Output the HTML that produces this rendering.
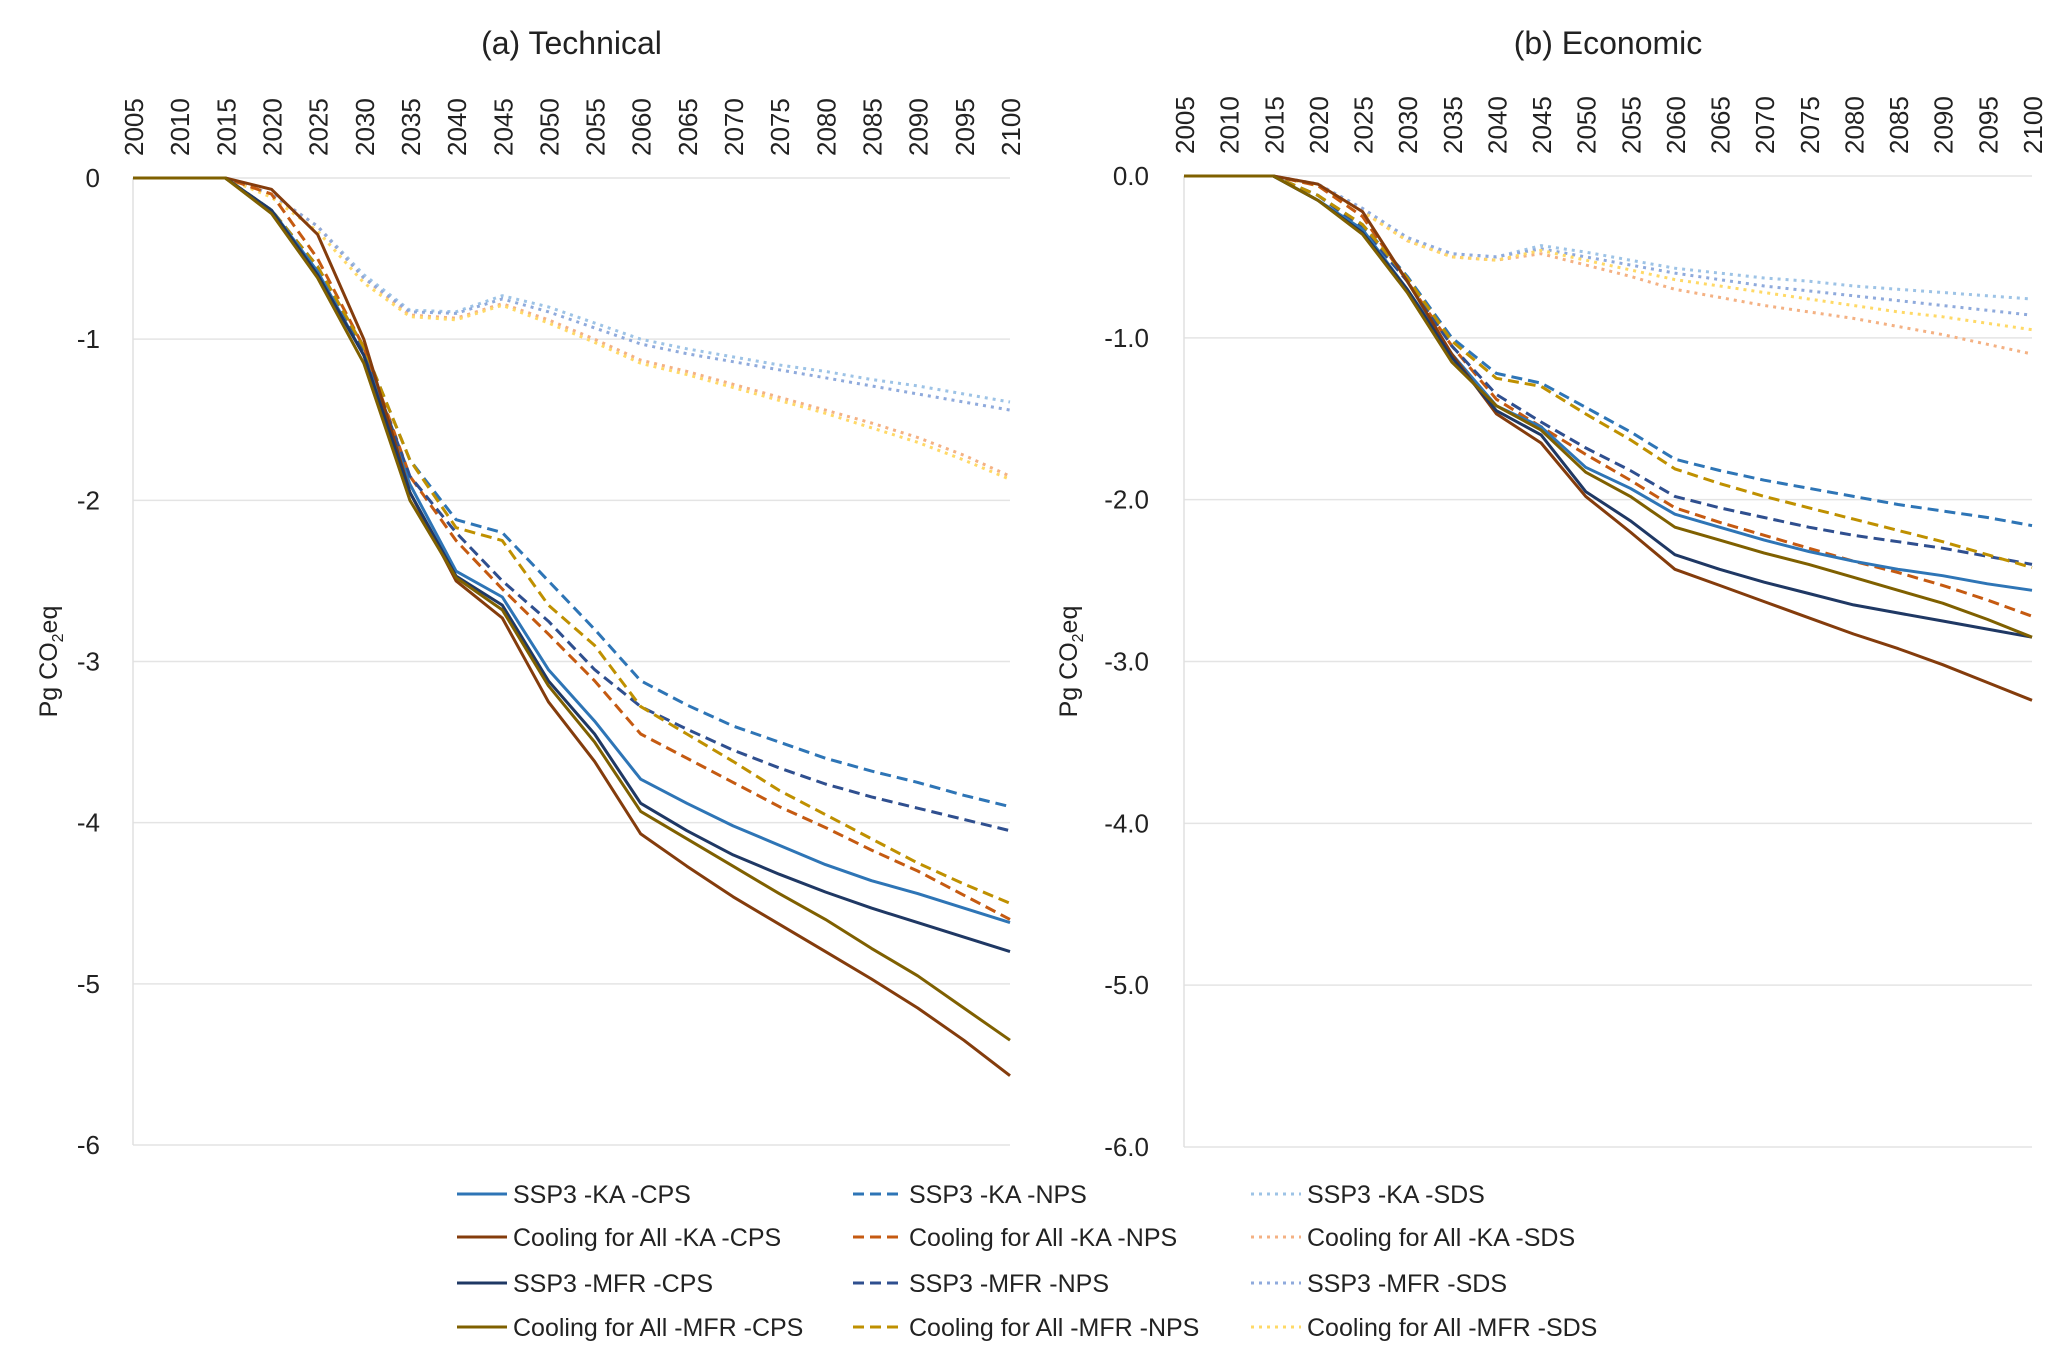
<!DOCTYPE html>
<html><head><meta charset="utf-8"><style>
html,body{margin:0;padding:0;background:#fff;}
svg{display:block;font-family:"Liberation Sans",sans-serif;}
</style></head><body>
<svg id="chart" width="2067" height="1362" viewBox="0 0 2067 1362" xmlns="http://www.w3.org/2000/svg">
<rect width="2067" height="1362" fill="#fff"/>
</svg>
<script>
const years = [2005,2010,2015,2020,2025,2030,2035,2040,2045,2050,2055,2060,2065,2070,2075,2080,2085,2090,2095,2100];
const seriesNames = ["SSP3 -KA -CPS","SSP3 -KA -NPS","SSP3 -KA -SDS","Cooling for All -KA -CPS","Cooling for All -KA -NPS","Cooling for All -KA -SDS","SSP3 -MFR -CPS","SSP3 -MFR -NPS","SSP3 -MFR -SDS","Cooling for All -MFR -CPS","Cooling for All -MFR -NPS","Cooling for All -MFR -SDS"];
const yTicks = [0,-1,-2,-3,-4,-5,-6];

// Technical panel
const techKaCps   = [0,0,0,-0.2,-0.58,-1.1,-1.9,-2.44,-2.6,-3.05,-3.37,-3.73,-3.88,-4.02,-4.14,-4.26,-4.36,-4.44,-4.53,-4.62];
const techKaNps   = [0,0,0,-0.2,-0.55,-1.05,-1.75,-2.12,-2.2,-2.5,-2.8,-3.12,-3.27,-3.4,-3.5,-3.6,-3.68,-3.75,-3.83,-3.9];
const techKaSds   = [0,0,0,-0.1,-0.3,-0.6,-0.82,-0.83,-0.73,-0.8,-0.9,-1.0,-1.06,-1.11,-1.16,-1.2,-1.25,-1.29,-1.34,-1.39];
const techCfaKaCps= [0,0,0,-0.07,-0.35,-1.0,-1.95,-2.5,-2.73,-3.25,-3.62,-4.07,-4.27,-4.46,-4.63,-4.8,-4.97,-5.15,-5.35,-5.57];
const techCfaKaNps= [0,0,0,-0.1,-0.5,-1.05,-1.85,-2.25,-2.55,-2.83,-3.12,-3.45,-3.6,-3.75,-3.9,-4.03,-4.17,-4.3,-4.45,-4.6];
const techCfaKaSds= [0,0,0,-0.1,-0.3,-0.62,-0.85,-0.87,-0.78,-0.88,-1.0,-1.13,-1.2,-1.28,-1.36,-1.44,-1.52,-1.61,-1.72,-1.85];
const techMfrCps  = [0,0,0,-0.2,-0.6,-1.1,-1.95,-2.47,-2.65,-3.12,-3.45,-3.88,-4.05,-4.2,-4.32,-4.43,-4.53,-4.62,-4.71,-4.8];
const techMfrNps  = [0,0,0,-0.2,-0.55,-1.08,-1.85,-2.2,-2.5,-2.75,-3.05,-3.28,-3.42,-3.55,-3.66,-3.76,-3.84,-3.91,-3.98,-4.05];
const techMfrSds  = [0,0,0,-0.1,-0.3,-0.62,-0.83,-0.84,-0.75,-0.83,-0.93,-1.03,-1.09,-1.14,-1.19,-1.24,-1.29,-1.34,-1.39,-1.44];
const techCfaMfrCps=[0,0,0,-0.22,-0.62,-1.15,-2.0,-2.48,-2.68,-3.15,-3.5,-3.93,-4.1,-4.27,-4.44,-4.6,-4.78,-4.95,-5.15,-5.35];
const techCfaMfrNps=[0,0,0,-0.2,-0.55,-1.05,-1.75,-2.17,-2.25,-2.65,-2.9,-3.28,-3.45,-3.62,-3.8,-3.95,-4.1,-4.25,-4.38,-4.5];
const techCfaMfrSds=[0,0,0,-0.12,-0.33,-0.65,-0.86,-0.88,-0.79,-0.9,-1.02,-1.15,-1.22,-1.3,-1.38,-1.46,-1.55,-1.64,-1.75,-1.87];

// Economic panel
const econKaCps   = [0,0,0,-0.15,-0.33,-0.7,-1.1,-1.42,-1.55,-1.8,-1.93,-2.09,-2.17,-2.25,-2.32,-2.38,-2.43,-2.47,-2.52,-2.56];
const econKaNps   = [0,0,0,-0.12,-0.3,-0.62,-1.0,-1.22,-1.28,-1.43,-1.58,-1.75,-1.82,-1.88,-1.93,-1.98,-2.03,-2.07,-2.11,-2.16];
const econKaSds   = [0,0,0,-0.05,-0.2,-0.38,-0.48,-0.5,-0.43,-0.47,-0.52,-0.57,-0.6,-0.63,-0.65,-0.68,-0.7,-0.72,-0.74,-0.76];
const econCfaKaCps= [0,0,0,-0.05,-0.22,-0.65,-1.1,-1.47,-1.65,-1.98,-2.2,-2.43,-2.53,-2.63,-2.73,-2.83,-2.92,-3.02,-3.13,-3.24];
const econCfaKaNps= [0,0,0,-0.06,-0.25,-0.65,-1.05,-1.38,-1.55,-1.72,-1.88,-2.05,-2.14,-2.22,-2.3,-2.38,-2.45,-2.53,-2.62,-2.72];
const econCfaKaSds= [0,0,0,-0.05,-0.22,-0.4,-0.5,-0.52,-0.48,-0.55,-0.62,-0.7,-0.75,-0.8,-0.84,-0.88,-0.93,-0.98,-1.04,-1.1];
const econMfrCps  = [0,0,0,-0.15,-0.35,-0.7,-1.12,-1.45,-1.6,-1.95,-2.13,-2.34,-2.43,-2.51,-2.58,-2.65,-2.7,-2.75,-2.8,-2.85];
const econMfrNps  = [0,0,0,-0.12,-0.32,-0.65,-1.05,-1.35,-1.52,-1.68,-1.82,-1.98,-2.05,-2.11,-2.17,-2.22,-2.26,-2.3,-2.35,-2.4];
const econMfrSds  = [0,0,0,-0.05,-0.2,-0.38,-0.48,-0.5,-0.45,-0.5,-0.55,-0.6,-0.64,-0.68,-0.71,-0.74,-0.77,-0.8,-0.83,-0.86];
const econCfaMfrCps=[0,0,0,-0.15,-0.36,-0.72,-1.15,-1.42,-1.57,-1.83,-1.98,-2.17,-2.25,-2.33,-2.4,-2.48,-2.56,-2.64,-2.74,-2.85];
const econCfaMfrNps=[0,0,0,-0.12,-0.3,-0.63,-1.02,-1.25,-1.3,-1.47,-1.63,-1.81,-1.9,-1.98,-2.05,-2.12,-2.19,-2.26,-2.34,-2.42];
const econCfaMfrSds=[0,0,0,-0.06,-0.22,-0.4,-0.5,-0.52,-0.46,-0.52,-0.58,-0.64,-0.68,-0.72,-0.76,-0.8,-0.84,-0.87,-0.91,-0.95];

const NS="http://www.w3.org/2000/svg";
const svg=document.getElementById('chart');
const colors=["#2e75b6","#2e75b6","#9dc3e6","#843c0c","#c55a11","#f4b183","#1f3864","#2f4f8f","#8faadc","#7f6000","#bf9000","#ffd966"];
const dashes=["","11,6","3,5","","11,6","3,5","","11,6","3,5","","11,6","3,5"];
function mk(tag,attrs,parent){const e=document.createElementNS(NS,tag);for(const k in attrs)e.setAttribute(k,attrs[k]);(parent||svg).appendChild(e);return e;}

function panel(id,title,x0,x1,y0,y6,decimals,labelRight,ylabX,data){
  const g=mk('g',{});
  
  
  const xs=v=>x0+(v-years[0])/(years[years.length-1]-years[0])*(x1-x0);
  const ys=v=>y0+(v/-6)*(y6-y0);
  const t=mk('text',{x:(x0+x1)/2,y:54,'font-size':32,'text-anchor':'middle',fill:'#222'},g);
  t.textContent=title;
  
  
  yTicks.forEach(v=>{
    const gl=mk('line',{x1:x0,x2:x1,y1:ys(v),y2:ys(v),stroke:'#e4e4e4','stroke-width':1.5},g);
    
    
    const tl=mk('text',{x:labelRight,y:ys(v)+9,'font-size':26,'text-anchor':'end',fill:'#222'},g);
    tl.textContent=decimals?v.toFixed(1):String(v);
    
    
  });
  const ax=mk('line',{x1:x0,x2:x0,y1:y0,y2:y6,stroke:'#e0e0e0','stroke-width':1.5},g);
  
  
  years.forEach(yr=>{
    const xl=mk('text',{x:0,y:0,'font-size':26,'text-anchor':'start',fill:'#222',transform:`translate(${xs(yr)+10},${y0-22}) rotate(-90)`},g);
    xl.textContent=yr;
    
    
  });
  const yl=mk('text',{x:0,y:0,'font-size':25,'text-anchor':'middle',fill:'#222',transform:`translate(${ylabX},${(y0+y6)/2}) rotate(-90)`},g);
  yl.innerHTML='Pg CO<tspan font-size="16" dy="6">2</tspan><tspan dy="-6">eq</tspan>';
  
  
  const order=[2,5,8,11,1,4,7,10,0,3,6,9];
  order.forEach(i=>{
    const arr=data[i];
    const d=arr.map((v,j)=>(j?'L':'M')+xs(years[j]).toFixed(1)+','+ys(v).toFixed(1)).join(' ');
    const p=mk('path',{d:d,fill:'none',stroke:colors[i],'stroke-width':3,'stroke-linejoin':'round'},g);
    if(dashes[i])p.setAttribute('stroke-dasharray',dashes[i]);
    
    
  });
}
panel('technical','(a) Technical',133,1010,178,1145,false,100,57,
 [techKaCps,techKaNps,techKaSds,techCfaKaCps,techCfaKaNps,techCfaKaSds,techMfrCps,techMfrNps,techMfrSds,techCfaMfrCps,techCfaMfrNps,techCfaMfrSds]);
panel('economic','(b) Economic',1184,2032,176,1147,true,1149,1077,
 [econKaCps,econKaNps,econKaSds,econCfaKaCps,econCfaKaNps,econCfaKaSds,econMfrCps,econMfrNps,econMfrSds,econCfaMfrCps,econCfaMfrNps,econCfaMfrSds]);

// legend
const lg=mk('g',{});


const colX=[457,853,1251], rowY=[1194,1237,1283,1327];
seriesNames.forEach((n,i)=>{
  const c=i%3,r=Math.floor(i/3);
  const eg=mk('g',{},lg);
  
  
  const l=mk('line',{x1:colX[c],x2:colX[c]+50,y1:rowY[r],y2:rowY[r],stroke:colors[i],'stroke-width':3},eg);
  if(dashes[i])l.setAttribute('stroke-dasharray',dashes[i]);
  const t=mk('text',{x:colX[c]+56,y:rowY[r]+9,'font-size':25,fill:'#222'},eg);
  t.textContent=n;
});
</script>
</body></html>
